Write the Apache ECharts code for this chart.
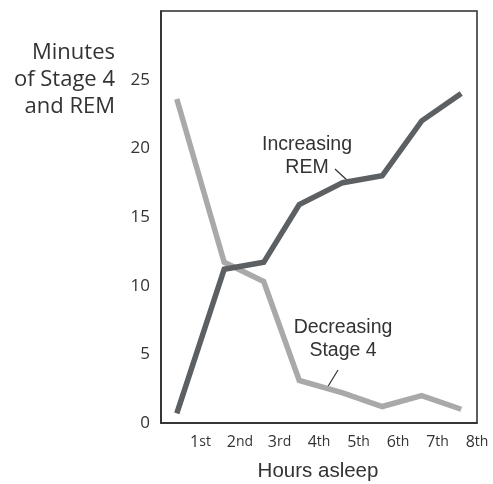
<!DOCTYPE html>
<html>
<head>
<meta charset="utf-8">
<script src="https://cdn.jsdelivr.net/npm/echarts@6/dist/echarts.min.js"></script>
<style>
html,body{margin:0;padding:0;background:#fff;}
#chart{width:493px;height:484px;}
</style>
</head>
<body>
<div id="chart"></div>
<script>
// Data
const hourLabels = ['1st', '2nd', '3rd', '4th', '5th', '6th', '7th', '8th'];
const hourNums = ['1', '2', '3', '4', '5', '6', '7', '8'];
const hourSuffix = ['st', 'nd', 'rd', 'th', 'th', 'th', 'th', 'th'];
const pointHours = [0.4, 1.6, 2.6, 3.5, 4.6, 5.6, 6.6, 7.6];
const stage4Minutes = [23.6, 11.7, 10.3, 3.1, 2.2, 1.2, 2.0, 1.0];
const remMinutes = [0.7, 11.2, 11.7, 15.9, 17.5, 18.0, 22.0, 24.0];
const yTicks = [0, 5, 10, 15, 20, 25];

const chart = echarts.init(document.getElementById('chart'));
const pair = (xs, ys) => xs.map((x, i) => [x, ys[i]]);

chart.setOption({
  animation: false,
  backgroundColor: '#fff',
  grid: {left: 161, top: 11, right: 16, bottom: 61, show: true, borderColor: '#2a2a2a', borderWidth: 1.5, backgroundColor: 'transparent'},
  xAxis: {
    type: 'value', min: 0, max: 8, interval: 1,
    axisLine: {show: true, lineStyle: {color: '#2a2a2a', width: 1.5}},
    axisTick: {show: false}, splitLine: {show: false},
    axisLabel: {
      margin: 11,
      formatter: v => v >= 1 ? '{n|' + hourNums[v - 1] + '}{s|' + hourSuffix[v - 1] + '}' : '',
      rich: {
        n: {fontFamily: 'Open Sans', fontSize: 16, color: '#333'},
        s: {fontFamily: 'Open Sans', fontSize: 14, color: '#333'}
      }
    }
  },
  yAxis: {
    type: 'value', min: 0, max: 30, interval: 5,
    axisLine: {show: true, lineStyle: {color: '#2a2a2a', width: 1.5}},
    axisTick: {show: false}, splitLine: {show: false},
    axisLabel: {
      margin: 11, fontFamily: 'Open Sans', fontSize: 17, color: '#333',
      formatter: v => yTicks.includes(v) ? String(v) : ''
    }
  },
  series: [
    {
      name: 'Stage 4', type: 'line', data: pair(pointHours, stage4Minutes),
      symbol: 'none', lineStyle: {color: '#a9a9a9', width: 5.5, cap: 'butt', join: 'miter'}, z: 2
    },
    {
      name: 'REM', type: 'line', data: pair(pointHours, remMinutes),
      symbol: 'none', lineStyle: {color: '#5c6063', width: 5.5, cap: 'butt', join: 'miter'}, z: 3
    }
  ],
  graphic: [
    {type: 'text', x: 115, y: 39, style: {text: 'Minutes\nof Stage 4\nand REM', fontFamily: 'Open Sans', fontSize: 22, lineHeight: 27, fill: '#333', align: 'right', verticalAlign: 'top'}},
    {type: 'text', x: 318, y: 461, style: {text: 'Hours asleep', fontFamily: 'Liberation Sans', fontSize: 20.5, fill: '#333', align: 'center', verticalAlign: 'top'}},
    {type: 'text', x: 307, y: 133, style: {text: 'Increasing\nREM', fontFamily: 'Liberation Sans', fontSize: 19.5, lineHeight: 23, fill: '#333', align: 'center', verticalAlign: 'top'}},
    {type: 'line', shape: {x1: 335, y1: 169, x2: 348, y2: 181}, style: {stroke: '#333', lineWidth: 1.2}},
    {type: 'text', x: 343, y: 316, style: {text: 'Decreasing\nStage 4', fontFamily: 'Liberation Sans', fontSize: 19.5, lineHeight: 23, fill: '#333', align: 'center', verticalAlign: 'top'}},
    {type: 'line', shape: {x1: 338, y1: 370, x2: 327, y2: 388}, style: {stroke: '#333', lineWidth: 1.2}}
  ]
});
</script>
</body>
</html>
